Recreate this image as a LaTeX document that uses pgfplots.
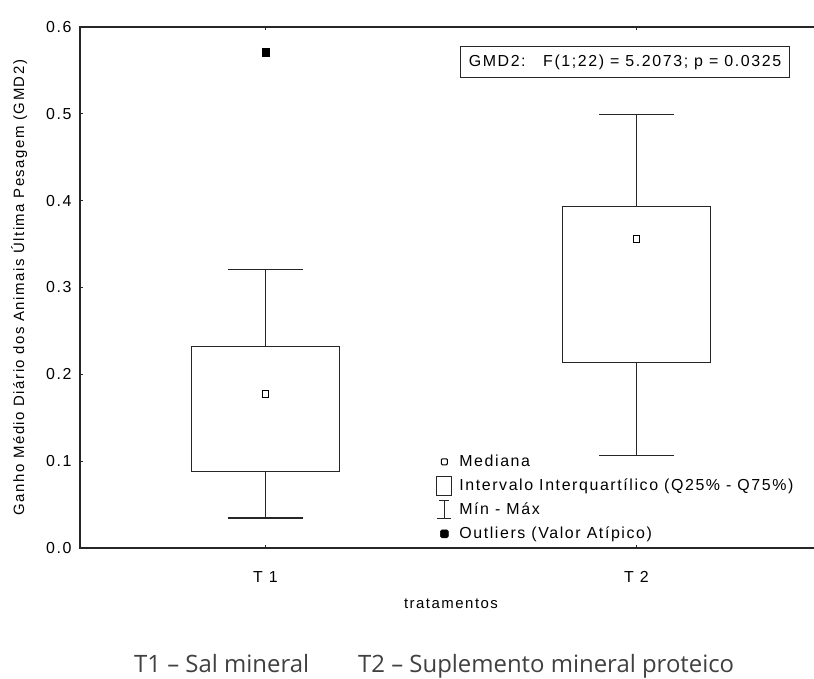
\documentclass[border=0pt]{standalone}
\usepackage{fontspec}
\setmainfont{Liberation Sans}[LetterSpace=10]
\newfontfamily\capfont{Open Sans}
\usepackage{pgfplots}
\pgfplotsset{compat=1.18}
\usetikzlibrary{calc}
\begin{document}
\begin{tikzpicture}
\begin{axis}[
 name=ax,
 scale only axis, width=742bp, height=521bp,
 xmin=0.5, xmax=2.5, ymin=0, ymax=0.6,
 xtick={1,2}, xticklabels={T 1, T 2},
 ytick={0,0.1,0.2,0.3,0.4,0.5,0.6},
 yticklabel style={/pgf/number format/fixed, /pgf/number format/fixed zerofill, /pgf/number format/precision=1, xshift=-5bp},
 /pgf/number format/assume math mode=true,
 tick align=inside, major tick length=3bp,
 tick style={black!85, line width=1bp},
 axis line style={black!85, line width=1.4bp},
 ticklabel style={font=\fontsize{16}{19}\selectfont},
 xticklabel style={yshift=-20bp},
 xlabel={tratamentos},
 xlabel style={font=\fontsize{15}{18}\selectfont, at={(rel axis cs:0.5,0)}, anchor=center, yshift=-56bp},
 ylabel={Ganho Médio Diário dos Animais Última Pesagem (GMD2)},
 ylabel style={font=\fontsize{15}{18}\selectfont, yshift=12bp},
 clip=false,
 legend cell align=left,
 legend style={draw=none, fill=none, at={(axis cs:1.46,0.111)}, anchor=north west,
   font=\fontsize{16}{19}\selectfont, row sep=4bp, inner sep=0pt},
]
% T1 box, whiskers
\addplot[black!85, line width=1.1bp, line join=miter, forget plot] coordinates {(0.8,0.0884) (1.2,0.0884) (1.2,0.2316) (0.8,0.2316) (0.8,0.0884)} -- cycle;
\addplot[black!85, line width=1.1bp, forget plot] coordinates {(1,0.2316) (1,0.321)};
\addplot[black!85, line width=1.1bp, forget plot] coordinates {(0.9,0.321) (1.1,0.321)};
\addplot[black!85, line width=1.1bp, forget plot] coordinates {(1,0.0884) (1,0.0346)};
\addplot[black!85, line width=1.1bp, forget plot] coordinates {(0.9,0.0346) (1.1,0.0346)};
% T2 box, whiskers
\addplot[black!85, line width=1.1bp, line join=miter, forget plot] coordinates {(1.8,0.2135) (2.2,0.2135) (2.2,0.393) (1.8,0.393) (1.8,0.2135)} -- cycle;
\addplot[black!85, line width=1.1bp, forget plot] coordinates {(2,0.393) (2,0.4997)};
\addplot[black!85, line width=1.1bp, forget plot] coordinates {(1.9,0.4997) (2.1,0.4997)};
\addplot[black!85, line width=1.1bp, forget plot] coordinates {(2,0.2135) (2,0.1063)};
\addplot[black!85, line width=1.1bp, forget plot] coordinates {(1.9,0.1063) (2.1,0.1063)};
% medians
\addplot[only marks, mark=square, mark size=3.2bp, mark options={line width=1.1bp, draw=black, fill=white}, forget plot]
  coordinates {(1,0.1774) (2,0.356)};
% outlier
\addplot[only marks, mark=square*, mark size=3.6bp, mark options={fill=black, draw=black}, forget plot]
  coordinates {(1,0.571)};
\addlegendimage{legend image code/.code={\path[draw=none,fill=none] (0bp,-10bp) rectangle (16bp,10bp);
  \draw[black, line width=1bp, rounded corners=1bp, fill=none] (5bp,-3bp) rectangle (11bp,3bp);}}
\addlegendentry{\hspace{5bp}Mediana}
\addlegendimage{legend image code/.code={\path[draw=none,fill=none] (0bp,-10bp) rectangle (16bp,10bp);
  \draw[black!85, line width=1bp, fill=none] (0.5bp,-9.5bp) rectangle (15.5bp,9.5bp);}}
\addlegendentry{\hspace{5bp}Intervalo Interquartílico (Q25\% - Q75\%)}
\addlegendimage{legend image code/.code={\path[draw=none,fill=none] (0bp,-10bp) rectangle (16bp,10bp);
  \draw[black!85, line width=1bp] (1bp,-9bp) -- (15bp,-9bp) (8bp,-9bp) -- (8bp,9bp) (3bp,9bp) -- (13bp,9bp);}}
\addlegendentry{\hspace{5bp}Mín - Máx}
\addlegendimage{legend image code/.code={\path[draw=none,fill=none] (0bp,-10bp) rectangle (16bp,10bp);
  \fill[black, rounded corners=1.5bp] (4bp,-4bp) rectangle (12bp,4bp);}}
\addlegendentry{\hspace{5bp}Outliers (Valor Atípico)}
\node[draw=black!85, line width=1bp, fill=white, font=\fontsize{16}{19}\selectfont,
  inner xsep=8bp, minimum height=31bp] at (axis cs:1.969,0.5593)
  {GMD2:\hspace{1.1em}F(1;22) = 5.2073; p = 0.0325};
\end{axis}
\node[anchor=base west, font=\capfont\fontsize{24}{29}\selectfont, text=black!75, inner sep=0pt]
  at ($(ax.south west)+(54bp,-124bp)$) {T1 – Sal mineral};
\node[anchor=base west, font=\capfont\fontsize{24}{29}\selectfont, text=black!75, inner sep=0pt]
  at ($(ax.south west)+(278bp,-124bp)$) {T2 – Suplemento mineral proteico};
\pgfresetboundingbox
\path[use as bounding box] ($(ax.south west)+(-80bp,-131bp)$) rectangle ($(ax.south west)+(734bp,548bp)$);
\end{tikzpicture}
\end{document}
